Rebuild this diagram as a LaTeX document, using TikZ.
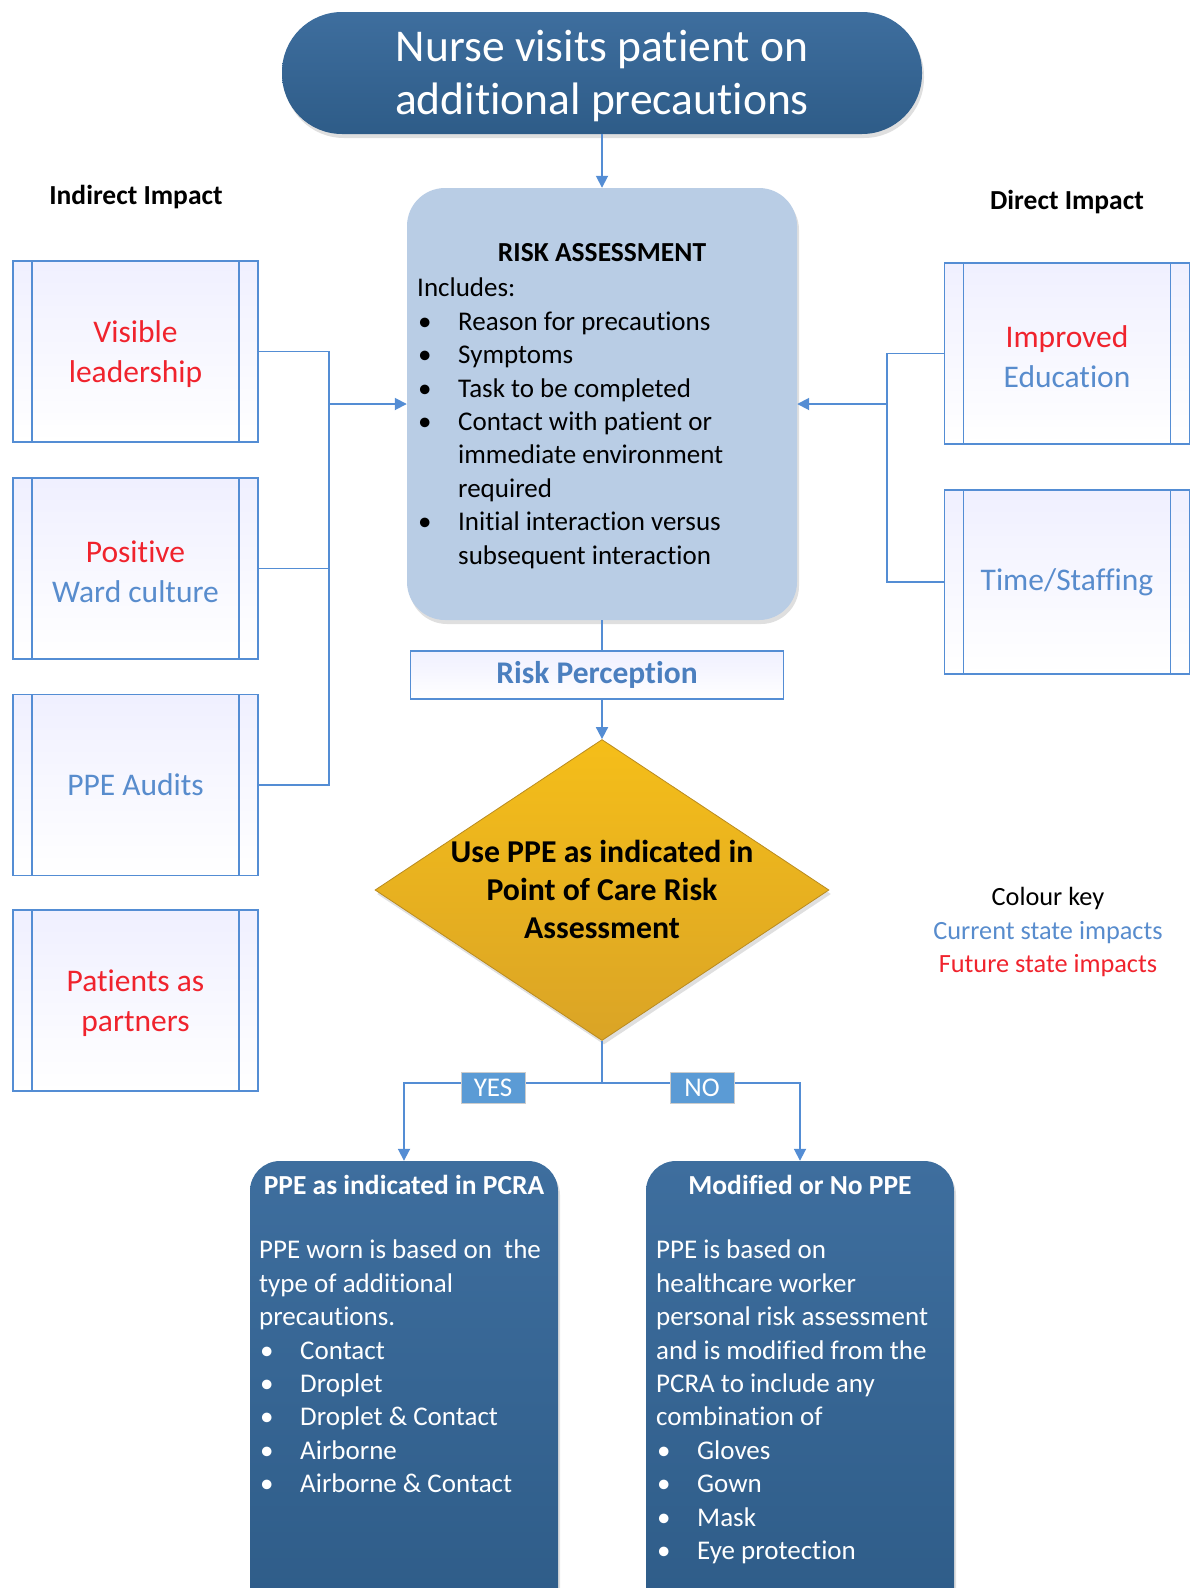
\documentclass[tikz,border=0pt]{standalone}
\usepackage{fontspec}
\setmainfont{Carlito}[Ligatures=NoCommon]
\usetikzlibrary{arrows.meta,shapes.geometric,shadows,positioning}

\definecolor{linkblue}{RGB}{84,141,212}
\definecolor{curblue}{RGB}{88,140,205}
\definecolor{futred}{RGB}{240,35,45}
\definecolor{navy}{RGB}{46,92,136}
\definecolor{navytop}{RGB}{62,110,158}
\definecolor{rafill}{RGB}{185,205,229}
\definecolor{gold}{RGB}{218,164,38}
\definecolor{goldtop}{RGB}{245,190,25}
\definecolor{yesfill}{RGB}{91,155,213}

\newcommand{\fsize}[2]{\fontsize{#1}{#2}\selectfont}
\newcommand{\bul}{\makebox[41pt][l]{\hspace{1pt}\textbullet}}
\newcommand{\ind}{\hspace*{41pt}}
\newcommand{\dropline}[1]{\raisebox{-3pt}[\height][\depth]{#1}}

\begin{document}
\begin{tikzpicture}[x=1pt,y=-1pt,
              link/.style={draw=linkblue,line width=1.8pt},
              arr/.style={link,-{Triangle[length=12pt,width=12pt]}},
              shade3d/.style={drop shadow={opacity=0.25,shadow xshift=2pt,shadow yshift=-4pt}},
              term/.style={rounded corners=60pt,minimum width=640pt,minimum height=122pt,
                top color=navytop,bottom color=navy,text=white,align=center,font=\fsize{45.5}{53},shade3d},
              head/.style={font=\fsize{27.5}{30}\bfseries},
              procbox/.style={link,minimum width=245pt,minimum height=181pt,inner sep=0pt,
                top color=blue!6,bottom color=white,align=center,font=\fsize{31.5}{40},
                path picture={\draw[link]
                  ([xshift=19pt]path picture bounding box.north west) -- ([xshift=19pt]path picture bounding box.south west)
                  ([xshift=-19pt]path picture bounding box.north east) -- ([xshift=-19pt]path picture bounding box.south east);}},
              rabox/.style={rounded corners=38pt,minimum width=390pt,minimum height=432pt,fill=rafill,shade3d},
              listtext/.style={align=left,inner sep=0pt,font=\fsize{27}{33.4}},
              perceive/.style={link,minimum width=373pt,minimum height=48pt,inner sep=0pt,
                top color=blue!6,bottom color=white,text=linkblue!90!black,font=\fsize{31.5}{34}\bfseries},
              decision/.style={diamond,minimum width=454pt,minimum height=301pt,inner sep=0pt,
                top color=goldtop,bottom color=gold,draw=gold!85!black,line width=.8pt,shade3d},
              outbox/.style={rounded corners=30pt,minimum width=308pt,minimum height=460pt,
                top color=navytop,bottom color=navy,shade3d},
              outtitle/.style={text=white,font=\fsize{27.5}{30}\bfseries},
              yn/.style={fill=yesfill,draw=gray!40,line width=1pt,text=white,font=\fsize{27}{28},
                minimum width=64pt,minimum height=31pt,inner sep=0pt}
            ]
              \useasboundingbox (0,0) rectangle (1190,1588);
              \clip (0,0) rectangle (1190,1588);

              \node[term] (visit) at (602,73) {\dropline{Nurse visits patient on}\\\dropline{additional precautions}};

              \node[head] (indirect) at (136,197) {Indirect Impact};
              \node[head] (direct) at (1067,202) {Direct Impact};

              \node[rabox] (ra) at (602,404) {};
              \node[font=\fsize{27.5}{33.4}\bfseries] (ratitle) at (602,253) {RISK ASSESSMENT};
              \node[listtext,anchor=north west] (ralist) at (417,278) {Includes:\\
                \bul Reason for precautions\\
                \bul Symptoms\\
                \bul Task to be completed\\
                \bul Contact with patient or\\
                \ind immediate environment\\
                \ind required\\
                \bul Initial interaction versus\\
                \ind subsequent interaction};

              \node[procbox,text=futred] (lead) at (135.5,351.5) {\dropline{Visible}\\\dropline{leadership}};
              \node[procbox,text=futred] (culture) at (135.5,568.5) {\dropline{Positive}\\\dropline{\textcolor{curblue}{Ward culture}}};
              \node[procbox,text=curblue] (audit) at (135.5,785) {PPE Audits};
              \node[procbox,text=futred] (partner) at (135.5,1000.5) {\dropline{Patients as}\\\dropline{partners}};

              \node[procbox,text=futred] (educ) at (1067,353.5) {\dropline{Improved}\\\dropline{\textcolor{curblue}{Education}}};
              \node[procbox,text=curblue,minimum height=184pt] (staff) at (1067,582) {Time/Staffing};

              \node[perceive] (rp) at (597,675) {Risk Perception};

              \node[decision] (dia) at (602,890) {};
              \node[align=center,font=\fsize{31.8}{38}\bfseries] (diatext) at (602,889)
                {Use PPE as indicated in\\Point of Care Risk\\Assessment};

              \node[align=center,font=\fsize{26.3}{33.5}] (key) at (1048,932)
                {Colour key\\\textcolor{curblue}{Current state impacts}\\\textcolor{futred}{Future state impacts}};

              \node[outbox] (pcra) at (404,1391) {};
              \node[outbox] (mod) at (800,1391) {};
              \node[outtitle] (pcratitle) at (404,1185) {PPE as indicated in PCRA};
              \node[outtitle] (modtitle) at (800,1185) {Modified or No PPE};
              \node[listtext,text=white,anchor=north west] (pcralist) at (259,1240) {PPE worn is based on\ \ the\\
                type of additional\\
                precautions.\\
                \bul Contact\\
                \bul Droplet\\
                \bul Droplet \& Contact\\
                \bul Airborne\\
                \bul Airborne \& Contact};
              \node[listtext,text=white,anchor=north west] (modlist) at (656,1240) {PPE is based on\\
                healthcare worker\\
                personal risk assessment\\
                and is modified from the\\
                PCRA to include any\\
                combination of\\
                \bul Gloves\\
                \bul Gown\\
                \bul Mask\\
                \bul Eye protection};

              \coordinate (ltrunk) at (328,404);
              \coordinate (rtrunk) at (887,404);
              \coordinate (split) at (602,1083);

              \draw[arr] (visit.south) -- (ra.north);
              \draw[link] (lead.east) -- ++(70,0) |- (audit.east);
              \draw[link] (culture.east) -- ++(70,0);
              \draw[arr] (ltrunk) -- (ra.west);
              \draw[link] (educ.west) -- ++(-57,0) |- (staff.west);
              \draw[arr] (rtrunk) -- (ra.east);
              \draw[link] (ra.south) -- (ra.south |- rp.north);
              \draw[arr] (ra.south |- rp.south) -- (dia.north);
              \draw[link] (dia.south) -- (split);
              \draw[arr] (split) -| (pcra.north);
              \draw[arr] (split) -| (mod.north);

              \node[yn] (yes) at (493,1088) {YES};
              \node[yn] (no) at (702,1088) {NO};
            \end{tikzpicture}
\end{document}
